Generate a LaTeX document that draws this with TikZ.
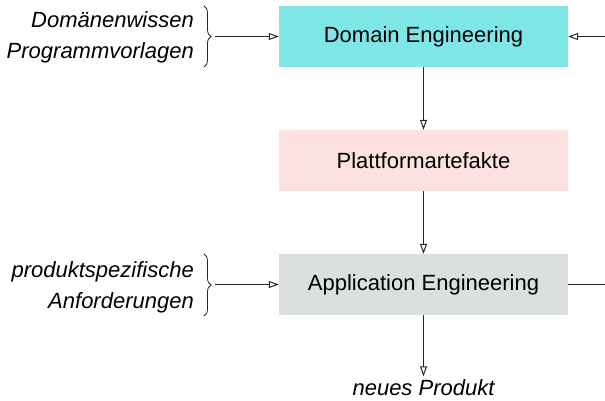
\documentclass[tikz,border=0pt]{standalone}
\usepackage{fontspec}
\setmainfont{Liberation Sans}
\usetikzlibrary{arrows.meta,decorations.pathreplacing}
\definecolor{domainc}{HTML}{7FE6E8}
\definecolor{platformc}{HTML}{FDE0E0}
\definecolor{appc}{HTML}{DCE0DD}
\begin{document}
\begin{tikzpicture}[x=1pt,y=-1pt,
  every node/.style={font=\fontsize{22}{26}\selectfont},
  phase/.style={minimum width=289pt,minimum height=61pt,inner sep=0pt,draw=none},
  flow/.style={draw=black!85,line width=1pt,-{Triangle[open,length=10pt,width=7pt]}},
  plain/.style={draw=black!85,line width=1pt},
  inputs/.style={align=right,anchor=east,inner sep=0pt,font=\fontsize{22}{31}\selectfont\itshape},
  bracket/.style={draw=black!85,line width=0.8pt,decorate,decoration={brace,amplitude=7pt}}]
\useasboundingbox (0,0) rectangle (605,400);

% the three stages
\node[phase,fill=domainc]   (dom)  at (423.5,36.5)  {Domain Engineering};
\node[phase,fill=platformc] (plat) at (423.5,160.5) {Plattformartefakte};
\node[phase,fill=appc]      (app)  at (423.5,284.5) {Application Engineering};
\node[font=\fontsize{22}{26}\selectfont\itshape] (prod) at (423.5,388) {neues Produkt};

% inputs on the left
\node[inputs] (din) at (194,37) {Domänenwissen\\Programmvorlagen};
\node[inputs] (ain) at (194,287) {produktspezifische\\Anforderungen};
\coordinate (dbt) at (204,6);
\coordinate (dbb) at (204,67);
\coordinate (abt) at (204,254);
\coordinate (abb) at (204,316);
\draw[bracket] (dbt) -- (dbb);
\draw[bracket] (abt) -- (abb);
\coordinate (dtip) at (215,36.5);
\coordinate (atip) at (215,284.5);
\draw[flow] (dtip) -- (dom.west);
\draw[flow] (atip) -- (app.west);

% main flow
\draw[flow] (dom) -- (plat);
\draw[flow] (plat) -- (app);
\draw[flow] (app) -- (prod.north);

% feedback leaving on the right
\coordinate (fbin) at (606,36.5);
\coordinate (fbout) at (606,284.5);
\draw[flow] (fbin) -- (dom.east);
\draw[plain] (app.east) -- (fbout);
\end{tikzpicture}
\end{document}
